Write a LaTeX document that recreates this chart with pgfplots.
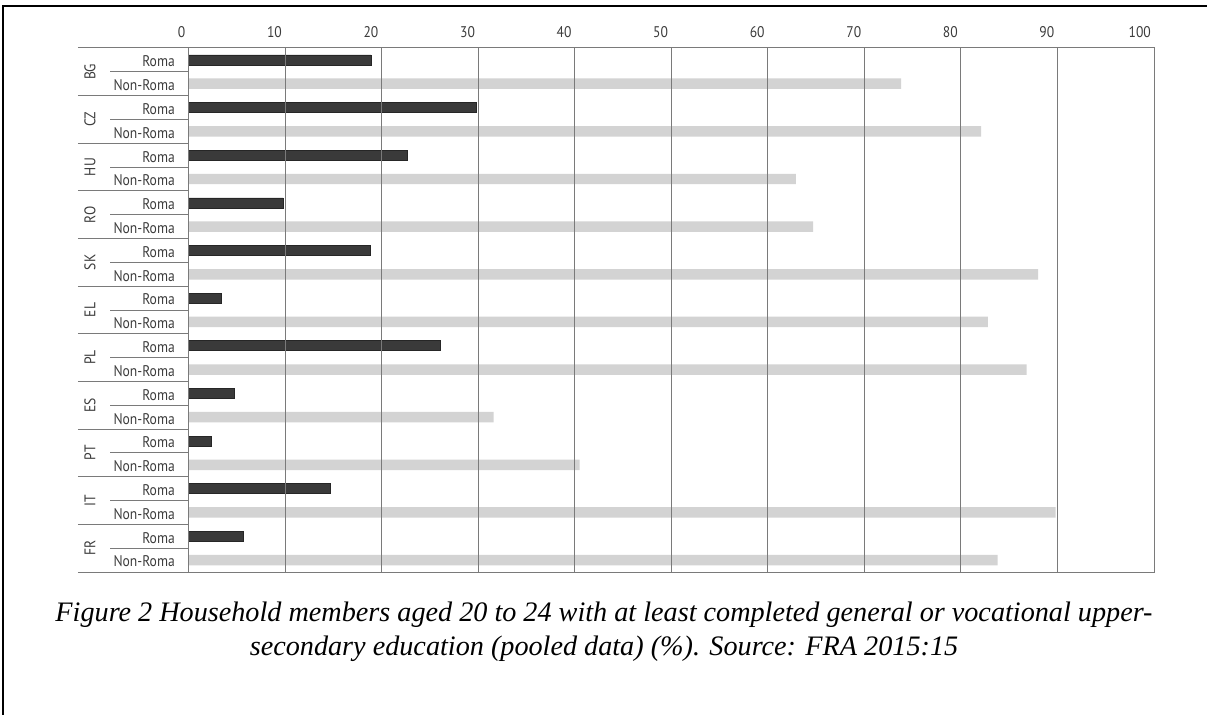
\documentclass[border=0pt]{standalone}
\usepackage{fontspec}
\usepackage{pgfplots}
\pgfplotsset{compat=1.18}
\newfontfamily\chartfont[FakeStretch=0.88]{PT Sans}
\newfontfamily\capfont{Liberation Serif}
\definecolor{romabar}{HTML}{3A3A3A}
\definecolor{nonromabar}{HTML}{D3D3D3}
\definecolor{gridc}{HTML}{7A7A7A}
\definecolor{txt}{HTML}{3C3C3C}
\begin{document}
\begin{tikzpicture}
\path[use as bounding box] (0,0) rectangle (1207bp,715bp);
\begin{axis}[
  at={(188.5bp,143bp)}, anchor=south west,
  width=965.5bp, height=524bp, scale only axis,
  xmin=0, xmax=100, ymin=0, ymax=22, y dir=reverse,
  xtick={0,10,...,100},
  xmajorgrids, grid style={gridc, line width=1bp},
  axis line style={gridc, line width=1bp},
  axis on top,
  xticklabel pos=upper,
  major tick length=0pt,
  ytick={0.5,1.5,...,21.5},
  yticklabels={Roma,Non-Roma,Roma,Non-Roma,Roma,Non-Roma,Roma,Non-Roma,Roma,Non-Roma,Roma,Non-Roma,Roma,Non-Roma,Roma,Non-Roma,Roma,Non-Roma,Roma,Non-Roma,Roma,Non-Roma},
  /pgf/number format/assume math mode=true,
  ticklabel style={font=\chartfont\fontsize{15.5}{18}\selectfont, text=txt, inner sep=0pt},
  xticklabel style={anchor=base east, xshift=-3bp, yshift=10bp},
  yticklabel style={anchor=east, xshift=-13.5bp, yshift=-1.5bp},
  clip=false,
]
\addplot[xbar, bar width=0.42, fill=romabar, draw=black!85, line width=0.5bp] coordinates {
(18.9,0.5) (29.8,2.5) (22.7,4.5) (9.8,6.5) (18.8,8.5) (3.4,10.5) (26.1,12.5) (4.7,14.5) (2.4,16.5) (14.7,18.5) (5.7,20.5)};
\addplot[xbar, bar width=0.44, fill=nonromabar, draw=none] coordinates {
(73.8,1.5) (82.1,3.5) (62.9,5.5) (64.7,7.5) (88.0,9.5) (82.8,11.5) (86.8,13.5) (31.6,15.5) (40.5,17.5) (89.8,19.5) (83.8,21.5)};
\pgfplotsinvokeforeach{0,2,...,22}{
  \draw[gridc, line width=1bp] ([xshift=-110.5bp]axis cs:0,#1) -- (axis cs:0,#1);
}
\pgfplotsinvokeforeach{1,3,...,21}{
  \draw[gridc, line width=1bp] ([xshift=-78.5bp]axis cs:0,#1) -- (axis cs:0,#1);
}
\begin{scope}[every node/.style={rotate=90, anchor=center, font=\chartfont\fontsize{15.5}{18}\selectfont, text=txt}]
\node at ([xshift=-98.5bp]axis cs:0,1) {BG};
\node at ([xshift=-98.5bp]axis cs:0,3) {CZ};
\node at ([xshift=-98.5bp]axis cs:0,5) {HU};
\node at ([xshift=-98.5bp]axis cs:0,7) {RO};
\node at ([xshift=-98.5bp]axis cs:0,9) {SK};
\node at ([xshift=-98.5bp]axis cs:0,11) {EL};
\node at ([xshift=-98.5bp]axis cs:0,13) {PL};
\node at ([xshift=-98.5bp]axis cs:0,15) {ES};
\node at ([xshift=-98.5bp]axis cs:0,17) {PT};
\node at ([xshift=-98.5bp]axis cs:0,19) {IT};
\node at ([xshift=-98.5bp]axis cs:0,21) {FR};
\end{scope}
\end{axis}
\draw[line width=2bp, black] (3bp,0bp) -- (3bp,710bp);
\draw[line width=2bp, black] (2bp,709bp) -- (1207bp,709bp);
\node[anchor=base, inner sep=0pt, font=\capfont\itshape\fontsize{28.3}{33}\selectfont] at (604bp,93bp) {Figure 2 Household members aged 20 to 24 with at least completed general or vocational upper-};
\node[anchor=base, inner sep=0pt, font=\capfont\itshape\fontsize{28.3}{33}\selectfont] at (604bp,59bp) {secondary education (pooled data) (\%). Source: FRA 2015:15};
\end{tikzpicture}
\end{document}
